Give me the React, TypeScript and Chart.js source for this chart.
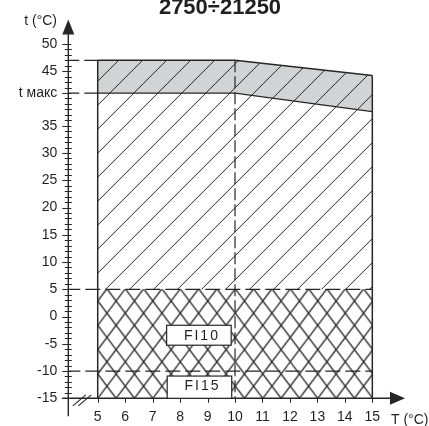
import React, { useEffect, useRef } from 'react';
import { Chart, registerables } from 'chart.js';

Chart.register(...registerables);

// ---- text ----
const TITLE = '2750÷21250';
const Y_TITLE = 't (°C)';
const X_TITLE = 'T (°C)';

// ---- data ----
const bandT = [5, 10, 15];
const upperLimit = [47, 47, 44.2];
const tMaxLimit = [41, 41, 37.6];
const fi10Level = 5;
const fi15Level = -10;
const minTemp = -15;
const tStart = 5;
const tSplit = 10;
const tEnd = 15;

const xTickValues = [5, 6, 7, 8, 9, 10, 11, 12, 13, 14, 15];
const yTickValues = [-15, -10, -5, 0, 5, 10, 15, 20, 25, 30, 35, 41, 45, 50];
const yTickLabels = ['-15', '-10', '-5', '0', '5', '10', '15', '20', '25', '30', '35', 't макс', '45', '50'];

const fiLabels = ['FI10', 'FI15'];

// ---- style ----
const FONT = 'Arial, Liberation Sans, sans-serif';
const TEXT = '#231f20';
const LINE = '#262626';
const GREY = '#d1d3d4';

// annotation boxes (data coords): [x0, x1, yTop, yBottom]
const FI_BOXES = [
  [7.51, 9.86, -1.6, -5.26],
  [7.53, 9.88, -10.92, -15],
];

function makeHatch(bg: string | null): CanvasPattern {
  const s = 24;
  const c = document.createElement('canvas');
  c.width = s;
  c.height = s;
  const g = c.getContext('2d')!;
  if (bg) {
    g.fillStyle = bg;
    g.fillRect(0, 0, s, s);
  }
  g.strokeStyle = LINE;
  g.lineWidth = 1;
  g.beginPath();
  g.moveTo(-2, s + 2);
  g.lineTo(s + 2, -2);
  g.moveTo(-2, 2);
  g.lineTo(2, -2);
  g.moveTo(s - 2, s + 2);
  g.lineTo(s + 2, s - 2);
  g.stroke();
  return g.createPattern(c, 'repeat')!;
}

function makeCross(): CanvasPattern {
  const W = 55;
  const H = 73;
  const w = W / 3;
  const h = H / 3;
  const c = document.createElement('canvas');
  c.width = W;
  c.height = H;
  const g = c.getContext('2d')!;
  g.fillStyle = '#ffffff';
  g.fillRect(0, 0, W, H);
  g.strokeStyle = LINE;
  g.lineWidth = 1.35;
  g.beginPath();
  for (let k = -4; k <= 8; k++) {
    const x0 = k * w;
    g.moveTo(x0 - w, -h);
    g.lineTo(x0 + 4 * w, 4 * h);
    g.moveTo(x0 + w, -h);
    g.lineTo(x0 - 4 * w, 4 * h);
  }
  g.stroke();
  return g.createPattern(c, 'repeat')!;
}

const pts = (xs: number[], ys: number[]) => xs.map((x, i) => ({ x, y: ys[i] }));

export default function App() {
  const ref = useRef<HTMLCanvasElement | null>(null);

  useEffect(() => {
    const canvas = ref.current;
    if (!canvas) return;
    const greyHatch = makeHatch(GREY);
    const whiteHatch = makeHatch(null);
    const cross = makeCross();
    const axisX0 = 3.82;
    const plainLine = { type: 'line' as const, pointRadius: 0, fill: false, borderColor: LINE, tension: 0 };

    const deco = {
      id: 'deco',
      beforeDraw(chart: any) {
        const xs = chart.scales.x;
        const ys = chart.scales.y;
        const c = xs.getPixelForValue(tStart) + ys.getPixelForValue(upperLimit[0]) + 20.8;
        const m1 = new DOMMatrix().translate(c, 0);
        greyHatch.setTransform(m1);
        whiteHatch.setTransform(m1);
        const m2 = new DOMMatrix().translate(xs.getPixelForValue(tStart), ys.getPixelForValue(minTemp));
        cross.setTransform(m2);
      },
      afterDraw(chart: any) {
        const ctx: CanvasRenderingContext2D = chart.ctx;
        const xs = chart.scales.x;
        const ys = chart.scales.y;
        const area = chart.chartArea;
        const x0 = area.left;
        const yb = ys.getPixelForValue(minTemp);
        ctx.save();
        ctx.strokeStyle = LINE;
        ctx.fillStyle = LINE;
        ctx.lineWidth = 1.4;
        // axes
        ctx.beginPath();
        ctx.moveTo(x0, area.top + 14);
        ctx.lineTo(x0, yb + 18);
        ctx.stroke();
        ctx.beginPath();
        ctx.moveTo(x0 - 6, yb);
        ctx.lineTo(area.right - 14, yb);
        ctx.stroke();
        // arrows
        ctx.beginPath();
        ctx.moveTo(x0, area.top);
        ctx.lineTo(x0 - 6, area.top + 15);
        ctx.lineTo(x0 + 6, area.top + 15);
        ctx.closePath();
        ctx.fill();
        ctx.beginPath();
        ctx.moveTo(area.right, yb);
        ctx.lineTo(area.right - 15, yb - 6.5);
        ctx.lineTo(area.right - 15, yb + 6.5);
        ctx.closePath();
        ctx.fill();
        // ticks
        ctx.lineWidth = 1;
        ctx.beginPath();
        for (let v = minTemp; v <= 50; v++) {
          const y = Math.round(ys.getPixelForValue(v)) + 0.5;
          const major = v % 5 === 0 || yTickValues.includes(v);
          if (v === 40 || !major) {
            ctx.moveTo(x0 - 3.5, y);
            ctx.lineTo(x0 + 3.5, y);
          } else {
            ctx.moveTo(x0 - 6, y);
            ctx.lineTo(x0 + 3, y);
          }
        }
        for (const v of xTickValues) {
          const x = Math.round(xs.getPixelForValue(v)) + 0.5;
          ctx.moveTo(x, yb);
          ctx.lineTo(x, yb + 4.5);
        }
        ctx.stroke();
        // axis break
        ctx.lineWidth = 1.1;
        ctx.beginPath();
        ctx.moveTo(x0 + 4.5, yb + 7.5);
        ctx.lineTo(x0 + 17.5, yb - 3.5);
        ctx.moveTo(x0 + 10, yb + 7.5);
        ctx.lineTo(x0 + 23, yb - 3.5);
        ctx.stroke();

        // FI labels
        FI_BOXES.forEach((b, i) => {
          const bx0 = xs.getPixelForValue(b[0]);
          const bx1 = xs.getPixelForValue(b[1]);
          const by0 = ys.getPixelForValue(b[2]);
          const by1 = ys.getPixelForValue(b[3]);
          ctx.fillStyle = '#ffffff';
          ctx.fillRect(bx0, by0, bx1 - bx0, by1 - by0);
          ctx.strokeStyle = LINE;
          ctx.lineWidth = 1.2;
          ctx.strokeRect(bx0, by0, bx1 - bx0, by1 - by0);
          ctx.fillStyle = TEXT;
          ctx.font = '14px ' + FONT;
          (ctx as any).letterSpacing = '2px';
          ctx.textAlign = 'center';
          ctx.textBaseline = 'alphabetic';
          const cx = (bx0 + bx1) / 2 + 3;
          const base = i === 0 ? (by0 + by1) / 2 + 4.5 : (by0 + by1) / 2 + 2.5;
          ctx.fillText(fiLabels[i], cx, base);
          (ctx as any).letterSpacing = '0px';
        });

        // titles
        ctx.fillStyle = TEXT;
        ctx.font = 'bold 22px ' + FONT;
        ctx.textAlign = 'center';
        ctx.textBaseline = 'alphabetic';
        ctx.fillText(TITLE, 220, 14);
        ctx.font = '14px ' + FONT;
        ctx.textAlign = 'right';
        ctx.fillText(Y_TITLE, 57, 24.5);
        ctx.textAlign = 'left';
        ctx.fillText(X_TITLE, 391, 423.5);
        ctx.restore();
      },
    };

    const chart = new Chart(canvas, {
      type: 'line',
      data: {
        datasets: [
          { ...plainLine, data: pts(bandT, upperLimit), borderWidth: 1.5, fill: '+1', backgroundColor: greyHatch },
          { ...plainLine, data: pts(bandT, tMaxLimit), borderWidth: 1.3, fill: '+1', backgroundColor: whiteHatch },
          { ...plainLine, data: pts([tStart, tEnd], [fi10Level, fi10Level]), borderWidth: 0, borderColor: 'rgba(0,0,0,0)', fill: 'start', backgroundColor: cross },
          { ...plainLine, data: pts([tStart, tStart], [upperLimit[0], minTemp]), borderWidth: 1.5 },
          { ...plainLine, data: pts([tEnd, tEnd], [upperLimit[2], minTemp]), borderWidth: 1.5 },
          { ...plainLine, data: pts([axisX0, tStart], [upperLimit[0], upperLimit[0]]), borderWidth: 1.2, borderDash: [14, 5] },
          { ...plainLine, data: pts([axisX0, tStart], [tMaxLimit[0], tMaxLimit[0]]), borderWidth: 1.2, borderDash: [14, 5] },
          { ...plainLine, data: pts([axisX0, tEnd], [fi10Level, fi10Level]), borderWidth: 1.2, borderDash: [15, 5] },
          { ...plainLine, data: pts([axisX0, tEnd], [fi15Level, fi15Level]), borderWidth: 1.2, borderDash: [15, 5] },
          { ...plainLine, data: pts([tSplit, tSplit], [upperLimit[1], minTemp]), borderWidth: 1.2, borderDash: [12, 4] },
        ],
      },
      options: {
        responsive: false,
        devicePixelRatio: 1,
        animation: false,
        events: [],
        layout: { padding: { left: 0, right: 24, top: 18, bottom: 0 } },
        plugins: {
          legend: { display: false },
          title: { display: false },
          tooltip: { enabled: false },
          filler: { drawTime: 'beforeDatasetsDraw' },
        },
        scales: {
          x: {
            type: 'linear', min: 3.929, max: 16.19,
            afterBuildTicks: (s: any) => { s.ticks = xTickValues.map((v) => ({ value: v })); },
            afterFit: (s: any) => { s.height = 27.7; },
            grid: { display: false, drawTicks: false },
            border: { display: false },
            ticks: { autoSkip: false, maxRotation: 0, padding: 10, color: TEXT, font: { family: FONT, size: 14 } },
          },
          y: {
            type: 'linear', min: -15, max: 54.51,
            afterBuildTicks: (s: any) => { s.ticks = yTickValues.map((v) => ({ value: v })); },
            afterFit: (s: any) => { s.width = 68.3; },
            grid: { display: false, drawTicks: false },
            border: { display: false },
            ticks: {
              autoSkip: false, padding: 11, color: TEXT, font: { family: FONT, size: 14 },
              callback: (v: any) => { const i = yTickValues.indexOf(Number(v)); return i >= 0 ? yTickLabels[i] : ''; },
            },
          },
        },
      } as any,
      plugins: [deco],
    });

    return () => chart.destroy();
  }, []);

  return (
    <div style={{ position: 'fixed', left: 0, top: 0, width: 429, height: 426, background: '#ffffff' }}>
      <canvas ref={ref} width={429} height={426} style={{ display: 'block', width: 429, height: 426 }} />
    </div>
  );
}
